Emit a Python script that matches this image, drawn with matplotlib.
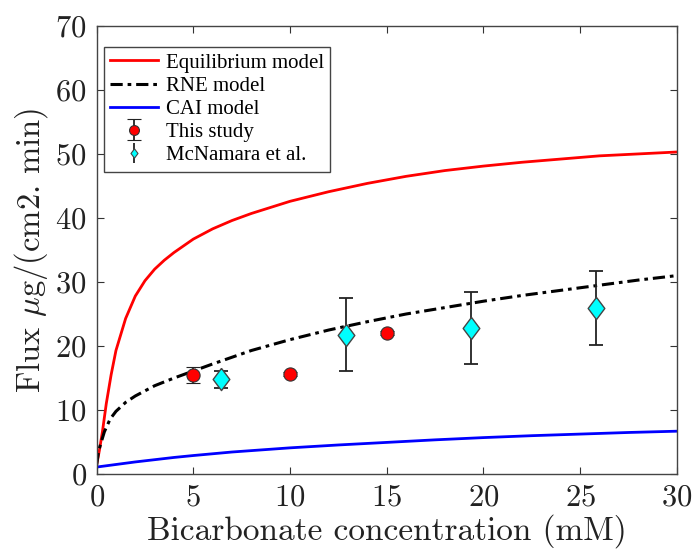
import numpy as np
import matplotlib
matplotlib.use("Agg")
import matplotlib.pyplot as plt
from matplotlib.lines import Line2D

# model curves
eq_x = [0, 0.15, 0.3, 0.5, 0.75, 1.0, 1.5, 2.0, 2.5, 3.0, 3.5, 4.0, 5.0, 6.0, 7.0, 8.0,
        10, 12, 14, 16, 18, 20, 22, 24, 26, 28, 30]
eq_y = [1.4, 3.8, 6.6, 11.0, 15.5, 19.3, 24.3, 27.8, 30.2, 32.0, 33.4, 34.6, 36.7, 38.3,
        39.6, 40.7, 42.6, 44.1, 45.4, 46.5, 47.4, 48.1, 48.7, 49.2, 49.7, 50.0, 50.3]

rne_x = [0, 0.1, 0.2, 0.4, 0.7, 1.0, 1.5, 2.0, 3.0, 4.0, 5.0, 6.0, 8.0, 10, 12, 14, 16,
         18, 20, 22, 24, 26, 28, 30]
rne_y = [1.4, 3.6, 4.6, 6.6, 8.6, 9.8, 11.2, 12.2, 13.8, 15.0, 16.1, 17.2, 19.3, 21.0,
         22.5, 23.8, 25.0, 26.0, 27.0, 27.9, 28.7, 29.5, 30.3, 31.0]

cai_x = [0, 1, 2, 3, 4, 5, 7, 10, 12.5, 15, 17.5, 20, 22.5, 25, 27.5, 30]
cai_y = [1.1, 1.5, 1.9, 2.25, 2.6, 2.9, 3.45, 4.1, 4.55, 4.95, 5.35, 5.7, 6.0, 6.25, 6.5, 6.7]

# measurements
study_x = [5, 10, 15]
study_y = [15.5, 15.6, 22.0]
study_err = [1.3, 0.3, 0.3]

mcn_x = [6.45, 12.9, 19.35, 25.8]
mcn_y = [14.8, 21.8, 22.8, 25.9]
mcn_err = [1.35, 5.7, 5.6, 5.8]

x_ticks = [0, 5, 10, 15, 20, 25, 30]
y_ticks = [0, 10, 20, 30, 40, 50, 60, 70]

plt.rcParams['font.family'] = ['cmr10']
plt.rcParams['mathtext.fontset'] = 'cm'
plt.rcParams['axes.formatter.use_mathtext'] = True

fig = plt.figure(figsize=(6.95, 5.5), dpi=100)
ax = fig.add_axes([0.139, 0.138, 0.835, 0.815])

ax.plot(eq_x, eq_y, color='#ff0000', lw=2, label='Equilibrium model')
ax.plot(rne_x, rne_y, color='black', lw=2.2, linestyle=(0, (4, 1.6, 1.2, 1.6)),
        label='RNE model')
ax.plot(cai_x, cai_y, color='#0000ff', lw=2, label='CAI model')

ax.errorbar(study_x, study_y, yerr=study_err, fmt='o', color='#ff0000', ms=9.5,
            mec='#333333', mew=0.8, ecolor='#222222', elinewidth=1.3, capsize=5,
            capthick=1.3, label='This study', zorder=5)
diamond = [(0, 1), (0.75, 0), (0, -1), (-0.75, 0), (0, 1)]
ax.errorbar(mcn_x, mcn_y, yerr=mcn_err, fmt='none', ecolor='#222222', elinewidth=1.3,
            capsize=5, capthick=1.3, zorder=4)
ax.plot(mcn_x, mcn_y, linestyle='none', marker=diamond, ms=16, color='#00ffff',
        mec='#444444', mew=1.0, zorder=6)
# legend proxy for McNamara
mcn_proxy = ax.errorbar([], [], yerr=[], fmt='none', ecolor='#222222', elinewidth=1.3,
                        capsize=4, capthick=1.3)

ax.set_xlim(0, 30)
ax.set_ylim(0, 70)
ax.set_xticks(x_ticks)
ax.set_yticks(y_ticks)
ax.tick_params(direction='in', top=True, right=True, length=5, width=0.8,
               labelsize=22, pad=7, colors='#333333', labelcolor='#222222')
for s in ax.spines.values():
    s.set_color('#444444')
    s.set_linewidth(1.0)

ax.set_xlabel('Bicarbonate concentration (mM)', fontsize=24, color='#222222', labelpad=2)
ax.set_ylabel(r'Flux $\mu$g/(cm2. min)', fontsize=23.5, color='#222222', labelpad=4)

h, l = ax.get_legend_handles_labels()
mcn_marker = Line2D([], [], linestyle='none', marker=diamond, ms=9, color='#00ffff',
                    mec='#444444', mew=0.8)
handles = h[:4] + [(mcn_proxy, mcn_marker)]
labels = l[:4] + ['McNamara et al.']
leg = ax.legend(handles, labels, loc='upper left', bbox_to_anchor=(0.012, 0.953),
                prop={'family': 'Liberation Serif', 'size': 15}, frameon=True,
                fancybox=False, edgecolor='#444444', framealpha=1,
                labelspacing=0.17, handlelength=2.3, handletextpad=0.4,
                borderpad=0.3, borderaxespad=0.0, markerscale=0.75)
leg.get_frame().set_linewidth(1.0)

fig.savefig('out.png', dpi=100)
